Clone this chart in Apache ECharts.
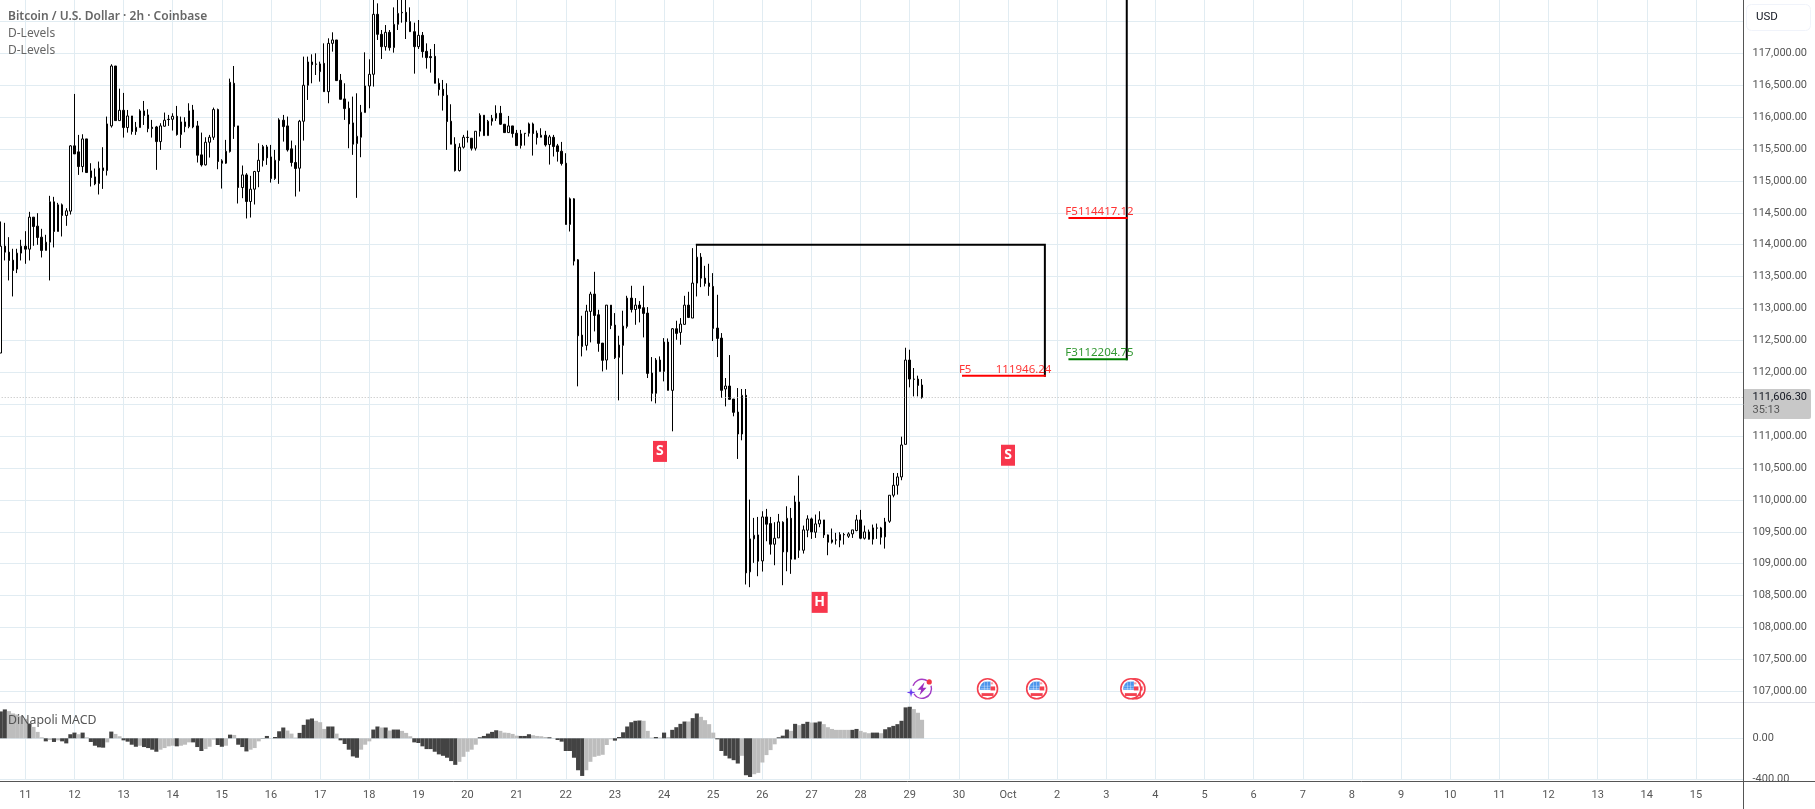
<!DOCTYPE html>
<html><head><meta charset="utf-8">
<style>html,body{margin:0;padding:0;background:#fff}#c{width:1815px;height:809px}</style>
<script src="https://cdn.jsdelivr.net/npm/echarts@6/dist/echarts.min.js"></script>
</head><body><div id="c"></div>
<script>
const dayLabels=['11','12','13','14','15','16','17','18','19','20','21','22','23','24','25','26','27','28','29','30','Oct','2','3','4','5','6','7','8','9','10','11','12','13','14','15'];
const opens=[112302,113977,113883,113758,113617,113868,113977,113930,114432,114291,
114118,113910,114040,114672,114207,114625,114458,114526,115549,115455,
115225,115658,115157,115063,114959,115204,115162,115862,116801,115945,
116107,115836,116018,115773,115836,116097,116034,115841,115846,115616,
115857,115966,115966,116013,115726,115924,115851,116112,115862,115408,
115251,115606,115684,116118,115314,115277,115460,116530,115862,114896,
115094,114677,114870,115147,115319,115533,115376,115037,115319,115951,
115862,115502,115288,115199,115935,116499,116864,116833,116833,116843,
116399,117156,117209,116577,116285,116138,115909,115585,115684,116071,
116488,116671,117611,117297,117104,117329,117089,117454,117642,117642,
117496,117339,117104,117282,117031,116948,116953,116530,116436,116342,
115935,115575,115162,115528,115684,115669,115512,115778,116029,115710,
115935,115982,116060,115888,115757,115862,115747,115554,115747,115747,
115893,115747,115684,115716,115570,115684,115549,115465,115277,114317,
114719,113763,112583,112422,112954,113226,112902,112458,112192,113053,
112740,112234,112422,112719,113163,112985,113053,113012,112928,111988,
111670,112192,112014,112474,111717,112683,112625,112751,113053,112850,
113398,113805,113476,113398,113346,112693,112536,111738,111785,111581,
111377,111033,111639,108872,109389,109451,109044,109733,109629,109305,
109404,109650,109185,109712,109070,109968,109211,109525,109702,109493,
109624,109686,109451,109337,109373,109368,109457,109431,109467,109519,
109686,109399,109498,109384,109561,109561,109420,109665,110073,110229,
110360,110871,112192,111894,111894,111800];
const closes=[113977,113883,113753,113596,113868,113977,113930,114432,114285,114113,
113910,114040,114672,114207,114625,114458,114531,115549,115423,115225,
115658,115131,115053,114954,115199,115162,115893,116801,115945,116107,
115836,116018,115773,115841,116097,116024,115820,115820,115616,115862,
115951,115961,116013,115726,115924,115851,116097,115846,115402,115251,
115606,115684,116118,115303,115277,115465,116546,115851,114896,115094,
114677,114870,115147,115324,115538,115361,115037,115324,115956,115851,
115486,115288,115194,115935,116499,116864,116822,116828,116713,116399,
117156,117209,116572,116279,116133,115893,115575,115700,116076,116488,
116671,117611,117297,117104,117329,117089,117454,117626,117635,117496,
117339,117104,117282,117026,116932,116932,116530,116431,116337,115930,
115575,115162,115528,115684,115680,115512,115778,116029,115710,115935,
115982,116060,115888,115757,115862,115742,115554,115737,115742,115893,
115742,115679,115716,115564,115690,115538,115460,115272,114317,114719,
113743,112573,112406,112959,113226,112891,112453,112187,113053,112735,
112229,112427,112724,113163,112985,113053,113001,112923,111983,111670,
112192,112014,112474,111717,112683,112610,112756,113053,112860,113398,
113805,113476,113393,113346,112688,112531,111717,111785,111576,111372,
111033,111639,108856,109389,109446,109039,109733,109619,109305,109399,
109655,109185,109712,109070,109968,109211,109530,109702,109498,109624,
109686,109451,109337,109373,109370,109457,109453,109467,109530,109686,
109399,109498,109384,109561,109557,109415,109655,110073,110229,110360,
110861,112192,111894,111890,111795,111606];
const highs=[114364,114343,114118,113936,113936,114077,114212,114515,114432,114494,
114249,114155,114766,114750,114656,114646,114572,115559,116363,115721,
115731,115658,115277,115194,115303,115528,116008,116828,116801,116446,
116379,116112,116018,115924,116123,116253,116123,115956,115862,115904,
116071,116034,116060,116175,116008,115998,116217,116191,115940,115757,
115684,115721,116149,116133,115340,115643,116603,116801,115862,115241,
115121,115079,115157,115590,115564,115564,115564,115486,115982,116034,
116008,115632,115559,115956,116948,116948,116984,117000,116869,117156,
117235,117329,117209,116676,116530,116243,116321,116373,116191,117015,
116906,117900,117783,117365,117443,117365,117720,117900,117900,117900,
117720,117480,117522,117334,117156,117068,117146,116608,116582,116530,
116201,115684,115590,115721,115789,115669,115778,116060,116029,115956,
116034,116185,116175,115888,116018,115862,115799,115799,115747,115914,
115914,115789,115825,115784,115721,115721,115580,115611,115434,114740,
114729,113774,112886,113058,113262,113575,112980,112458,113053,113053,
112928,112573,112965,113199,113356,113163,113116,113356,113022,112239,
112223,112249,112536,112531,112693,112808,112850,113199,113262,113946,
113998,113868,113669,113701,113554,113215,112615,111910,112270,111581,
111753,111738,111738,110005,109718,109733,109822,109859,109733,109650,
109780,109665,109900,109874,110067,110381,109598,109759,109723,109770,
109822,109686,109457,109551,109483,109493,109483,109493,109530,109765,
109843,109598,109535,109613,109629,109577,109718,110073,110422,110422,
110991,112385,112354,112067,111947,111894];
const lows=[112302,113753,113440,113189,113555,113753,113701,113753,113983,113998,
113800,113910,113440,113957,114207,114129,114296,114473,115423,115094,
115136,115131,114912,114933,114787,114875,115084,115836,115945,115945,
115679,115757,115726,115721,115836,115877,115763,115679,115173,115486,
115851,115862,115789,115710,115517,115763,115825,115825,115288,115225,
115241,115366,115643,115183,114880,115267,115444,115658,114646,114729,
114411,114426,114630,114901,115225,115251,114974,115016,114954,115616,
115460,115225,114755,114833,115632,116269,116530,116660,116556,116399,
116217,117026,116572,116279,115956,115512,115408,114734,115371,116071,
116138,116478,117209,116911,117042,117042,117010,117365,117480,117224,
117339,116681,117068,116932,116760,116697,116530,116337,116102,115486,
115575,115147,115147,115507,115601,115476,115476,115695,115710,115710,
115867,115940,115877,115757,115757,115679,115554,115507,115554,115695,
115397,115570,115684,115538,115256,115382,115303,115241,114317,114207,
113675,111780,112249,112343,112469,112641,112322,112014,112041,112677,
112208,111560,111968,112688,112938,112745,112782,112547,111910,111545,
111513,112014,111858,111717,111075,112510,112432,112751,112850,112850,
113189,113335,113346,113199,112490,112239,111597,111466,111571,111310,
110642,110934,108674,108632,109013,108804,108877,109352,109143,108976,
109404,108663,108882,108841,109070,109091,109159,109415,109389,109404,
109572,109404,109133,109316,109300,109258,109300,109404,109404,109509,
109384,109379,109379,109300,109389,109300,109237,109640,110041,110083,
110308,110871,111764,111623,111623,111586];
const macdValues=[264,284,267,244,234,218,191,145,112,63,
10,-30,-17,-36,-20,-30,-50,40,56,40,
56,10,-36,-73,-89,-92,-40,66,43,20,
-20,-33,-63,-83,-73,-86,-96,-112,-132,-112,
-96,-79,-73,-79,-73,-63,-40,-40,-86,-125,
-106,-83,-13,-66,-83,-73,36,33,-63,-86,
-129,-112,-96,-30,-3,23,3,13,69,106,
76,46,7,53,132,185,195,172,158,92,
116,116,46,-20,-56,-112,-178,-191,-112,-63,
-30,86,116,106,106,76,86,86,73,53,
20,-40,-46,-79,-106,-106,-132,-158,-172,-191,
-224,-261,-231,-182,-132,-112,-63,10,23,46,
63,79,73,56,53,43,26,23,23,40,
30,23,20,13,10,3,-17,-33,-125,-125,
-191,-314,-370,-314,-231,-182,-172,-162,-66,-10,
-23,13,59,116,158,172,175,172,73,7,
13,7,56,13,83,109,142,165,165,198,
244,211,178,139,56,-10,-125,-172,-198,-215,
-248,-172,-363,-380,-353,-340,-238,-165,-116,-59,
10,26,86,73,142,129,142,162,155,155,
165,139,109,92,83,83,83,83,83,92,
73,59,50,56,56,50,89,109,122,139,
172,304,310,287,251,182];
const macdTones=[1,1,0,0,0,0,0,1,0,0,
0,1,0,1,0,1,1,1,1,0,
1,0,1,1,1,1,0,1,0,0,
1,1,1,1,0,1,1,1,1,0,
0,0,0,1,0,0,0,1,1,1,
0,0,0,1,1,0,1,0,1,1,
1,0,0,0,1,1,0,1,1,1,
0,0,0,1,1,1,1,0,0,0,
1,1,0,1,1,1,1,1,0,0,
0,1,1,0,1,0,1,1,0,0,
0,1,1,1,1,1,1,1,1,1,
1,1,0,0,0,0,0,1,1,1,
1,1,0,0,0,0,0,1,1,1,
0,0,0,0,1,0,1,1,1,1,
1,1,1,0,0,0,0,0,0,0,
1,1,1,1,1,1,1,0,0,0,
1,0,1,0,1,1,1,1,0,1,
1,0,0,0,0,1,1,1,1,1,
1,0,1,1,0,0,0,0,0,0,
1,1,1,0,1,0,1,1,0,1,
1,0,0,0,0,0,0,0,1,1,
0,0,0,1,1,0,1,1,1,1,
1,1,1,0,0,0];
const yTicksFormat=v=>v.toLocaleString('en-US',{minimumFractionDigits:2,maximumFractionDigits:2});
const lastPrice=111606.30;
const priceLabel='111,606.30', countdown='35:13';
const slotCount=426, firstDaySlot=6, slotsPerDay=12;
const categories=Array.from({length:slotCount},(_,i)=>String(i));
const boxPath=[[170,113998],[255,113998],[255,111946.24]];
const redLow=[[235,111946.24],[255,111946.24]];
const redHigh=[[261,114417.12],[275,114417.12]];
const greenLine=[[261,112204.75],[275,112204.75]];
const tallPath=[[275,112204.75],[275,118000]];
const redLabels=[[234,112035,'F5'],[243,112035,'111946.24'],[260,114516,'F5114417.12']];
const greenLabels=[[260,112306,'F3112204.75']];
const patternMarks=[[161,110760,'S'],[246,110700,'S']];
const headMarks=[[200,108394,'H']];
const flagEvents=[[277,107040],[276,107040],[241,107040],[253,107040]];
const boltEvents=[[225,107040]];

const FONT='Roboto';
const isDaySlot=i=>i>=firstDaySlot&&(i-firstDaySlot)%slotsPerDay===0;
const GRID='#e1ecf2', LINE='#555555', TXT='#555555';
function xAxis(gridIndex,showLabels){return {type:'category',gridIndex,data:categories,boundaryGap:true,
  axisLine:{show:false},axisTick:{show:false},
  splitLine:{show:true,alignWithLabel:true,interval:(i)=>isDaySlot(i),lineStyle:{color:GRID,width:1}},
  axisLabel:{show:showLabels,interval:(i)=>isDaySlot(i),margin:11,color:TXT,fontFamily:FONT,fontSize:11,
    formatter:(v,i)=>dayLabels[(+v-firstDaySlot)/slotsPerDay]||''}};}
function yAxis(gridIndex,min,max,interval){return {type:'value',gridIndex,position:'right',min,max,interval,scale:false,
  axisLine:{show:false},axisTick:{show:false},
  splitLine:{show:true,showMinLine:gridIndex===1,showMaxLine:false,lineStyle:{color:GRID,width:1}},
  axisLabel:{align:'left',margin:9.5,color:TXT,fontFamily:FONT,fontSize:11,showMinLabel:gridIndex===1,showMaxLabel:false,formatter:yTicksFormat}};}
function lineSeries(data,color){return {type:'line',xAxisIndex:0,yAxisIndex:0,data,symbol:'none',silent:true,clip:true,z:4,
  lineStyle:{color,width:2,cap:'square',join:'miter'}};}
function textSeries(data,color){return {type:'scatter',xAxisIndex:0,yAxisIndex:0,data:data.map(d=>({value:[d[0],d[1]],name:d[2]})),symbolSize:0,silent:true,z:6,
  label:{show:true,position:'right',distance:0,formatter:p=>p.name,color,fontFamily:'Noto Sans',fontSize:11.5}};}
function markSeries(data,w){return {type:'scatter',xAxisIndex:0,yAxisIndex:0,data:data.map(d=>({value:[d[0],d[1]],name:d[2]})),symbol:'rect',symbolSize:[w,21],silent:true,z:6,
  itemStyle:{color:'#f7364c',opacity:1},label:{show:true,position:'inside',formatter:p=>p.name,color:'#fff',fontFamily:'Noto Sans',fontWeight:700,fontSize:14}};}
function renderFlag(params,api){
  const [cx,cy]=api.coord([api.value(0),api.value(1)]);
  const white=(x,y,w,h)=>({type:'rect',shape:{x,y,width:w,height:h},style:{fill:'#ffffff',opacity:0.45}});
  return {type:'group',children:[
    {type:'circle',shape:{cx,cy,r:10},style:{fill:'#fff',stroke:'#f4404f',lineWidth:1.6}},
    {type:'polygon',shape:{points:[[cx-7.7,cy+1],[cx-7.4,cy-2],[cx-6,cy-4.8],[cx-3.5,cy-6.9],[cx+3,cy-7.2],[cx+3,cy+1]]},style:{fill:'#4a94ec'}},
    white(cx-7,cy-3,10,0.8),white(cx-7,cy-0.8,10,0.8),white(cx-3.6,cy-7,0.8,8),white(cx-0.6,cy-7,0.8,8),
    {type:'rect',shape:{x:cx+3,y:cy-2.3,width:4.6,height:4},style:{fill:'#f4404f'}},
    {type:'rect',shape:{x:cx+3,y:cy-6.4,width:2.6,height:2},style:{fill:'#f7a0a8'}},
    {type:'rect',shape:{x:cx-6,y:cy+4.4,width:12,height:2.8},style:{fill:'#f4404f'}}
  ]};
}
function renderBolt(params,api){
  const [cx,cy]=api.coord([api.value(0),api.value(1)]);
  const pts=a=>a.map(p=>[cx+p[0],cy+p[1]]);
  return {type:'group',children:[
    {type:'arc',shape:{cx,cy,r:9.5,startAngle:Math.PI*1.1,endAngle:Math.PI*1.68},style:{fill:'none',stroke:'#a63cc4',lineWidth:1.4}},
    {type:'arc',shape:{cx,cy,r:9.5,startAngle:Math.PI*1.9,endAngle:Math.PI*2.82},style:{fill:'none',stroke:'#a03ac6',lineWidth:1.4}},
    {type:'polygon',shape:{points:pts([[2.5,-6.5],[-4.5,1],[-0.8,1],[-2.5,6.5],[4.5,-1],[0.8,-1]])},style:{fill:'#9c2fc0'}},
    {type:'circle',shape:{cx:cx+7.2,cy:cy-6.8,r:2.6},style:{fill:'#f23645'}},
    {type:'polygon',shape:{points:pts([[-11,-0.8],[-10,2.8],[-6.6,3.8],[-10,4.8],[-11,8.4],[-12,4.8],[-15.4,3.8],[-12,2.8]])},style:{fill:'#6a3df0'}}
  ]};
}
const chart=echarts.init(document.getElementById('c'),null,{renderer:'canvas',width:1815,height:809});
const txt=(x,y,text,o={})=>({type:'text',x,y,z:50,style:Object.assign({text,fill:TXT,fontFamily:'Noto Sans',fontSize:12,verticalAlign:'middle',align:'left'},o)});
const hl=(y,x1,x2,c,z=40)=>({type:'line',z,shape:{x1,y1:y,x2,y2:y},style:{stroke:c,lineWidth:1}});
chart.setOption({
  animation:false,backgroundColor:'#fff',
  grid:[{left:-1.3,width:1744.3,top:-10.5,height:733.7,containLabel:false,outerBoundsMode:'none'},{left:-1.3,width:1744.3,top:697.6,height:81.4,containLabel:false,outerBoundsMode:'none'}],
  xAxis:[xAxis(0,false),xAxis(1,true)],
  yAxis:[yAxis(0,106500,118000,500),yAxis(1,-400,400,400)],
  series:[
    {type:'candlestick',xAxisIndex:0,yAxisIndex:0,barWidth:2,z:3,silent:true,
     data:opens.map((o,i)=>[o,closes[i],lows[i],highs[i]]),
     itemStyle:{color:'#ffffff',color0:'#000000',borderColor:'#000000',borderColor0:'#000000',borderWidth:1},
     markLine:{silent:true,symbol:'none',label:{show:false},animation:false,lineStyle:{type:[1,2],color:'#bdbdbd',width:1},data:[{yAxis:lastPrice}]}},
    {type:'bar',xAxisIndex:1,yAxisIndex:1,barCategoryGap:'0%',silent:true,z:3,
     data:macdValues.map((v,i)=>({value:v,itemStyle:{color:macdTones[i]?'#434343':'#bdbdbd'}}))},
    lineSeries(boxPath,'#000'),lineSeries(tallPath,'#000'),
    lineSeries(redLow,'#ff0000'),lineSeries(redHigh,'#ff0000'),lineSeries(greenLine,'#008000'),
    textSeries(redLabels,'#ff0000'),textSeries(greenLabels,'#008000'),
    markSeries(patternMarks,14),markSeries(headMarks,16),
    {type:'custom',xAxisIndex:0,yAxisIndex:0,data:flagEvents,renderItem:renderFlag,clip:false,silent:true,z:7},
    {type:'custom',xAxisIndex:0,yAxisIndex:0,data:boltEvents,renderItem:renderBolt,clip:false,silent:true,z:7}
  ],
  graphic:{elements:[
    hl(702.5,0,1815,'#e0e3eb',20),
    {type:'rect',z:45,shape:{x:1744,y:781.5,width:71,height:28},style:{fill:'#fff'}},
    {type:'line',z:60,shape:{x1:1743.5,y1:0,x2:1743.5,y2:809},style:{stroke:LINE,lineWidth:1}},
    {type:'line',z:60,shape:{x1:0,y1:781.5,x2:1815,y2:781.5},style:{stroke:LINE,lineWidth:1}},
    {type:'rect',z:45,shape:{x:1746.5,y:4.5,width:64,height:26,r:5},style:{fill:'#fff',stroke:'#f0f3fa',lineWidth:1}},
    txt(1756,17.5,'USD',{fill:'#131722',fontFamily:FONT,fontSize:11.5}),
    {type:'rect',z:45,shape:{x:1744,y:389,width:67,height:30,r:[0,2,2,0]},style:{fill:'#c8c8c8'}},
    txt(1752.5,397.5,priceLabel,{fill:'#131722',fontFamily:FONT,fontSize:11}),
    txt(1752.5,410.5,countdown,{fill:'#555',fontFamily:FONT,fontSize:11}),
    txt(8,16.5,'Bitcoin / U.S. Dollar · 2h · Coinbase',{fill:'#666',fontWeight:600,fontSize:12}),
    txt(8,33.5,'D-Levels',{fill:'#666',fontSize:12}),
    txt(8,50.5,'D-Levels',{fill:'#666',fontSize:12}),
    txt(8,720,'DiNapoli MACD',{fill:'#555',fontSize:12.3})
  ]}
});
</script></body></html>
